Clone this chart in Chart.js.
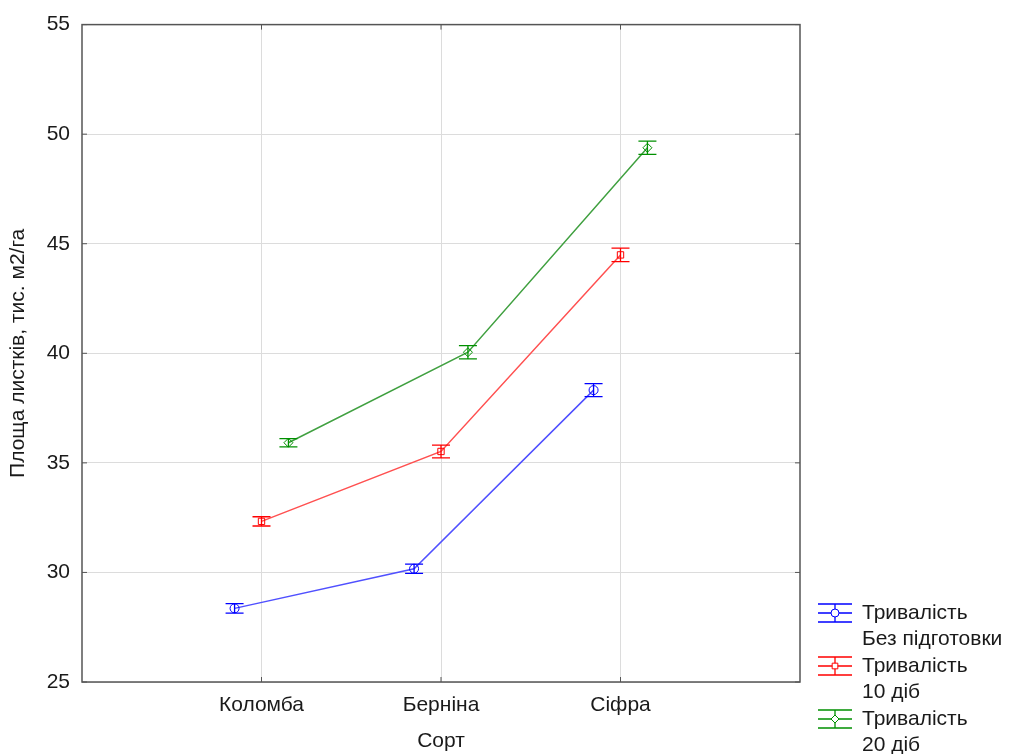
<!DOCTYPE html>
<html lang="uk">
<head>
    <meta charset="UTF-8">
    <title>Площа листків</title>
    <script src="https://cdn.jsdelivr.net/npm/chart.js@4/dist/chart.umd.min.js"></script>
    <style>
        html, body { margin: 0; padding: 0; background: #fff; }
        #wrap { width: 1013px; height: 754px; }
    </style>
</head>
<body>
<div id="wrap"><canvas id="chart"></canvas></div>
<script>
// Data
const categories = ['Коломба', 'Берніна', 'Сіфра'];
const seriesNames = [['Тривалість', 'Без підготовки'], ['Тривалість', '10 діб'], ['Тривалість', '20 діб']];
const noPrep = [28.36, 30.17, 38.32];
const days10 = [32.33, 35.52, 44.49];
const days20 = [35.92, 40.05, 49.38];
const noPrepErr = [0.22, 0.21, 0.3];
const days10Err = [0.21, 0.29, 0.31];
const days20Err = [0.19, 0.3, 0.3];
const yTicks = [25, 30, 35, 40, 45, 50, 55];

const FONT = "'Liberation Sans', Arial, sans-serif";
const FSIZE = 21;

// each series is shifted a little to the side of its category
const dodge = [-0.15, 0, 0.15];
const markerColors = ['#0000ff', '#ff0000', '#009000'];
const lineColors = ['#5050ff', '#ff5050', '#40a040'];
const pointStyles = ['circle', 'rect', 'rectRot'];
const values = [noPrep, days10, days20];
const errors = [noPrepErr, days10Err, days20Err];

function makeDataset(i) {
    return {
        label: seriesNames[i].join(' '),
        data: values[i].map((v, k) => ({ x: k + 1 + dodge[i], y: v })),
        err: errors[i],
        borderColor: lineColors[i],
        borderWidth: 1.5,
        pointStyle: pointStyles[i],
        pointRadius: 4.5,
        pointBorderColor: markerColors[i],
        pointBackgroundColor: 'rgba(255,255,255,0)',
        pointBorderWidth: 1,
        tension: 0,
        fill: false
    };
}

// error bars, plot box, inner ticks and legend
const extras = {
    id: 'extras',
    afterDatasetsDraw(chart) {
        const ctx = chart.ctx;
        const xs = chart.scales.x, ys = chart.scales.y;
        ctx.save();
        chart.data.datasets.forEach((ds, i) => {
            ctx.strokeStyle = markerColors[i];
            ctx.lineWidth = 1.3;
            ds.data.forEach((p, k) => {
                const px = xs.getPixelForValue(p.x);
                const top = ys.getPixelForValue(p.y + ds.err[k]);
                const bot = ys.getPixelForValue(p.y - ds.err[k]);
                ctx.beginPath();
                ctx.moveTo(px, top); ctx.lineTo(px, bot);
                ctx.moveTo(px - 9, top); ctx.lineTo(px + 9, top);
                ctx.moveTo(px - 9, bot); ctx.lineTo(px + 9, bot);
                ctx.stroke();
            });
        });
        ctx.restore();
    },
    afterDraw(chart) {
        const ctx = chart.ctx;
        const a = chart.chartArea;
        const xs = chart.scales.x, ys = chart.scales.y;
        ctx.save();
        ctx.strokeStyle = '#555';
        ctx.lineWidth = 1.5;
        ctx.strokeRect(a.left, a.top, a.right - a.left, a.bottom - a.top);
        // short ticks on the inside
        ctx.lineWidth = 1;
        ctx.beginPath();
        ys.ticks.forEach(t => {
            const py = ys.getPixelForValue(t.value);
            ctx.moveTo(a.left, py); ctx.lineTo(a.left + 5, py);
            ctx.moveTo(a.right, py); ctx.lineTo(a.right - 5, py);
        });
        xs.ticks.forEach(t => {
            const px = xs.getPixelForValue(t.value);
            ctx.moveTo(px, a.bottom); ctx.lineTo(px, a.bottom - 5);
            ctx.moveTo(px, a.top); ctx.lineTo(px, a.top + 5);
        });
        ctx.stroke();

        // legend
        const lx = 818, sx = 34, cap = 9;
        let ly = 613;
        ctx.font = FSIZE + 'px ' + FONT;
        ctx.textBaseline = 'middle';
        seriesNames.forEach((name, i) => {
            const c = markerColors[i];
            ctx.strokeStyle = c;
            ctx.lineWidth = 1.3;
            ctx.beginPath();
            ctx.moveTo(lx, ly); ctx.lineTo(lx + sx, ly);
            ctx.moveTo(lx, ly - cap); ctx.lineTo(lx + sx, ly - cap);
            ctx.moveTo(lx, ly + cap); ctx.lineTo(lx + sx, ly + cap);
            ctx.moveTo(lx + sx / 2, ly - cap); ctx.lineTo(lx + sx / 2, ly + cap);
            ctx.stroke();
            ctx.lineWidth = 1;
            ctx.fillStyle = '#fff';
            Chart.helpers.drawPoint(ctx, { pointStyle: pointStyles[i], radius: 4, borderWidth: 1, rotation: 0 }, lx + sx / 2, ly);
            ctx.fillStyle = '#1a1a1a';
            name.forEach((line, j) => ctx.fillText(line, lx + 44, ly + j * 26));
            ly += 53;
        });
        ctx.restore();
    }
};

new Chart(document.getElementById('chart'), {
    type: 'line',
    data: { datasets: [0, 1, 2].map(makeDataset) },
    options: {
        responsive: true,
        maintainAspectRatio: false,
        animation: false,
        layout: { padding: { top: 24, right: 213, left: 0, bottom: 0 } },
        plugins: { legend: { display: false }, tooltip: { enabled: false } },
        scales: {
            x: {
                type: 'linear',
                min: 0,
                max: categories.length + 1,
                afterBuildTicks(scale) {
                    scale.ticks = categories.map((c, k) => ({ value: k + 1 }));
                },
                afterFit(scale) { scale.height = 72; },
                ticks: {
                    padding: 11,
                    color: '#1a1a1a',
                    font: { family: FONT, size: FSIZE },
                    callback: v => categories[v - 1]
                },
                grid: { color: '#dcdcdc', lineWidth: 1, drawTicks: false },
                border: { display: false },
                title: {
                    display: true,
                    text: 'Сорт',
                    color: '#1a1a1a',
                    font: { family: FONT, size: FSIZE },
                    padding: { top: 4, bottom: 0 }
                }
            },
            y: {
                min: 25,
                max: 55,
                afterBuildTicks(scale) {
                    scale.ticks = yTicks.map(v => ({ value: v }));
                },
                afterFit(scale) { scale.width = 82; },
                ticks: {
                    padding: 12,
                    color: '#1a1a1a',
                    font: { family: FONT, size: FSIZE }
                },
                grid: { color: '#dcdcdc', lineWidth: 1, drawTicks: false },
                border: { display: false },
                title: {
                    display: true,
                    text: 'Площа листків, тис. м2/га',
                    color: '#1a1a1a',
                    font: { family: FONT, size: FSIZE },
                    padding: { top: 6, bottom: 4 }
                }
            }
        }
    },
    plugins: [extras]
});
</script>
</body>
</html>
